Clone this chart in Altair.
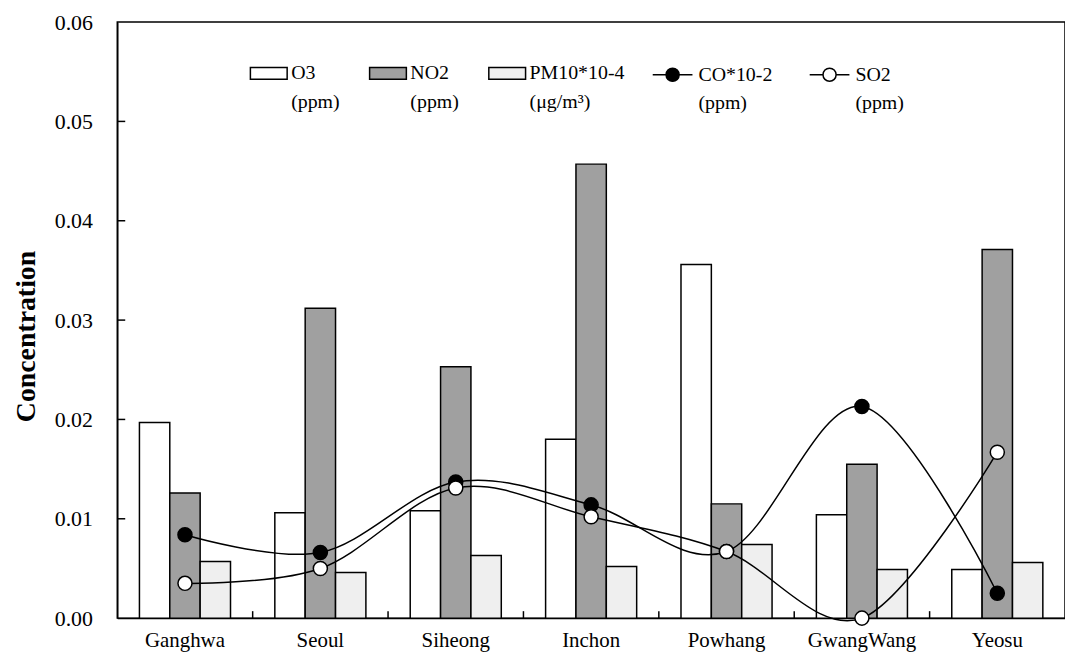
import altair as alt
import pandas as pd

# ---------------- data ----------------
sites = ["Ganghwa", "Seoul", "Siheong", "Inchon", "Powhang", "GwangWang", "Yeosu"]

bar_series = ["O3", "NO2", "PM10*10-4"]
bar_units = ["(ppm)", "(ppm)", "(μg/m³)"]
line_series = ["CO*10-2", "SO2"]
line_units = ["(ppm)", "(ppm)"]

o3 = [0.0197, 0.0106, 0.0108, 0.0180, 0.0356, 0.0104, 0.0049]
no2 = [0.0126, 0.0312, 0.0253, 0.0457, 0.0115, 0.0155, 0.0371]
pm10 = [0.0057, 0.0046, 0.0063, 0.0052, 0.0074, 0.0049, 0.0056]
co = [0.0084, 0.0066, 0.0137, 0.0114, 0.0067, 0.0213, 0.0025]
so2 = [0.0035, 0.0050, 0.0131, 0.0102, 0.0067, 0.0000, 0.0167]

y_labels = [0.0, 0.01, 0.02, 0.03, 0.04, 0.05, 0.06]
y_ticks = [0.01, 0.02, 0.03, 0.04, 0.05]

bars_df = pd.DataFrame({
    "site": sites * 3,
    "series": [s for s in bar_series for _ in sites],
    "value": o3 + no2 + pm10,
})
lines_df = pd.DataFrame({
    "site": sites * 2,
    "series": [s for s in line_series for _ in sites],
    "value": co + so2,
})
yt_df = pd.DataFrame({"t": y_ticks})
xt_df = pd.DataFrame({"site": sites[1:]})

# ---------------- style ----------------
FONT = "Liberation Serif"
W, H = 954, 600


def label_expr(names, units):
    expr = "datum.label"
    for n, u in zip(reversed(names), reversed(units)):
        expr = f"datum.label == '{n}' ? ['{n}', '{u}'] : ({expr})"
    return expr


x_scale = alt.Scale(domain=sites, paddingInner=0, paddingOuter=0)
y_scale = alt.Scale(domain=[0, 0.06], nice=False, zero=True)

x_axis = alt.Axis(title=None, ticks=False, labelAngle=0, labelPadding=12,
                  labelFontSize=21, labelFont=FONT, labelColor="black",
                  domainColor="black", domainWidth=1.5)
y_axis = alt.Axis(title="Concentration", values=y_labels, format=".2f", ticks=False,
                  grid=False, labelPadding=25, labelFontSize=22, labelFont=FONT,
                  labelColor="black", domainColor="black", domainWidth=1.5,
                  titleFont=FONT, titleFontSize=28, titleFontWeight="bold",
                  titleColor="black", titleX=-83, titleY=316, titleAngle=270,
                  titleAlign="center", titleBaseline="alphabetic")

rect_path = "M-1,-0.32H1V0.32H-1Z"
line_sym_path = ("M-1,0H-0.33A0.33,0.33 0 1 1 0.33,0"
                 "A0.33,0.33 0 1 1 -0.33,0M0.33,0H1")

bar_legend = alt.Legend(
    title=None, orient="none", legendX=133, legendY=32, direction="horizontal",
    columns=3, padding=0, symbolType=rect_path, symbolSize=1369,
    symbolStrokeColor="black", symbolStrokeWidth=1.5, symbolOpacity=1,
    labelExpr=label_expr(bar_series, bar_units), labelFont=FONT, labelFontSize=20,
    labelColor="black", labelOffset=3, labelLimit=0, labelBaseline="middle",
    columnPadding=27,
)
line_legend = alt.Legend(
    title=None, orient="none", legendX=538, legendY=32, direction="horizontal",
    columns=2, padding=0, symbolType=line_sym_path, symbolSize=1600,
    symbolStrokeColor="black", symbolStrokeWidth=1.5, symbolOpacity=1,
    labelExpr=label_expr(line_series, line_units), labelFont=FONT, labelFontSize=20,
    labelColor="black", labelOffset=5, labelLimit=0, labelBaseline="middle",
    columnPadding=34,
)

bars = alt.Chart(bars_df).mark_bar(stroke="black", strokeWidth=1.5, opacity=1).encode(
    x=alt.X("site:N", scale=x_scale, sort=sites, axis=x_axis),
    xOffset=alt.XOffset("series:N", sort=bar_series,
                        scale=alt.Scale(domain=bar_series, paddingInner=0, paddingOuter=0.73)),
    y=alt.Y("value:Q", scale=y_scale, axis=y_axis),
    fill=alt.Fill("series:N", sort=bar_series,
                  scale=alt.Scale(domain=bar_series, range=["#ffffff", "#a0a0a0", "#efefef"]),
                  legend=bar_legend),
)

curves = alt.Chart(lines_df).mark_line(interpolate="cardinal", color="black", strokeWidth=1.5).encode(
    x=alt.X("site:N", scale=x_scale, sort=sites, axis=x_axis),
    y=alt.Y("value:Q", scale=y_scale, axis=y_axis),
    detail="series:N",
)

points = alt.Chart(lines_df).mark_point(shape="circle", filled=True, size=200, stroke="black",
                                        strokeWidth=1.5, opacity=1).encode(
    x=alt.X("site:N", scale=x_scale, sort=sites, axis=x_axis),
    y=alt.Y("value:Q", scale=y_scale, axis=y_axis),
    fill=alt.Fill("series:N", sort=line_series,
                  scale=alt.Scale(domain=line_series, range=["#000000", "#ffffff"]),
                  legend=line_legend),
)

xticks = alt.Chart(xt_df).mark_rule(color="black", strokeWidth=1.5).encode(
    x=alt.X("site:N", scale=x_scale, sort=sites, axis=x_axis, bandPosition=0),
    y=alt.value(H),
    y2=alt.value(H - 7),
)

yticks = alt.Chart(yt_df).mark_rule(color="black", strokeWidth=1.5).encode(
    y=alt.Y("t:Q", scale=y_scale, axis=y_axis),
    x=alt.value(0),
    x2=alt.value(8),
)

chart = alt.layer(bars, curves, points, xticks, yticks).resolve_scale(
    fill="independent"
).properties(
    width=W, height=H,
    autosize=alt.AutoSizeParams(type="none"),
    padding={"left": 110, "top": 12, "right": 0, "bottom": 41},
).configure(
    background="white",
    font=FONT,
    style={"guide-label": {"lineHeight": 29}},
    view=alt.ViewConfig(stroke="black", strokeWidth=1.5),
)

chart.save("out.html", embed_options={"renderer": "svg", "actions": False})
